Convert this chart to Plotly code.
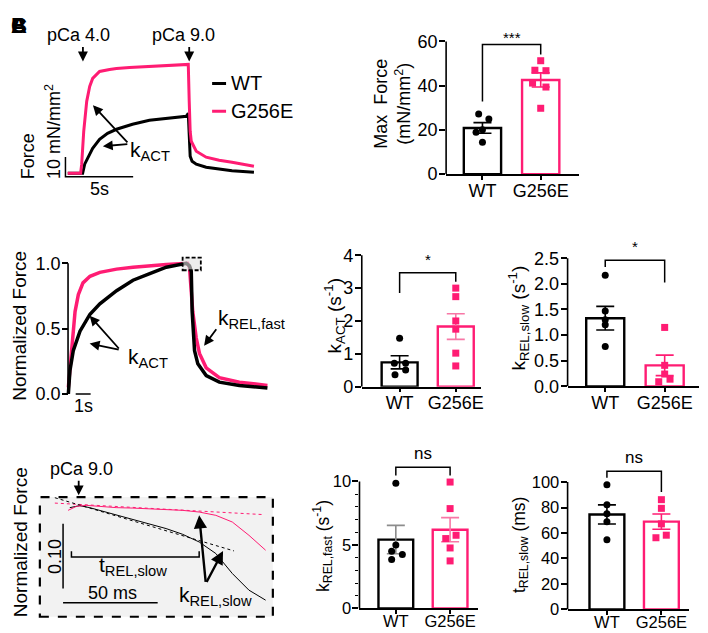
import plotly.graph_objects as go

# placement of the figure inside the photographed window (measured from earlier runs)
OFF = 8
SY, Y0 = 0.9866, 6.43
FW, FH = 700, 633
PINK = '#FF1C73'
PINK_LT = '#F877A6'
GREY = '#8C8C8C'
FONT = 'Liberation Sans, Arial, Helvetica, sans-serif'

cats = ['WT', 'G256E']

# ---- A: raw force traces, time (s) / force (mN/mm2)
a_t_g = [0.17, 1.12, 1.2, 1.35, 1.57, 1.79, 2.01, 2.52, 3.26, 3.77, 4.73, 6.2, 7.67, 9.07,
         9.14, 9.21, 9.29, 9.66, 10.39, 11.35, 12.3, 13.92]
a_f_g = [0.5, 0.5, 5, 21.5, 36.5, 44, 48, 51.5, 52.5, 53, 53.5, 54, 54.5, 55,
         36.5, 21.5, 16.5, 11.5, 8.5, 7, 6, 4]
a_t_wt = [0.17, 1.27, 1.42, 1.57, 1.79, 2.01, 2.52, 3.11, 3.77, 4.95, 6.2, 7.45, 8.92, 9.07,
          9.14, 9.21, 9.35, 9.66, 10.39, 11.35, 12.3, 13.92]
a_f_wt = [0.5, 0.5, 5, 7, 10, 13, 17.5, 20.5, 22.5, 25, 27, 28, 29, 30.5,
          16.5, 9, 6.5, 5, 3.5, 2.5, 1.75, 1]

# ---- B: normalized traces
b_t_g = [0.02, 0.25, 0.47, 0.69, 1.0, 1.47, 2.13, 3.25, 4.35, 6.58, 8.0, 8.13, 8.35, 8.58,
         8.8, 9.25, 10.13, 11.47, 13.35]
b_f_g = [0.05, 0.38, 0.63, 0.76, 0.85, 0.9, 0.93, 0.955, 0.97, 0.99, 1.0, 0.97, 0.63, 0.43,
         0.31, 0.2, 0.125, 0.09, 0.065]
b_t_wt = [0.02, 0.13, 0.35, 0.8, 1.47, 2.13, 3.25, 4.35, 5.47, 6.58, 7.91, 8.13, 8.25, 8.31,
          8.47, 8.69, 9.25, 10.13, 11.47, 13.35]
b_f_wt = [0.0, 0.18, 0.33, 0.48, 0.61, 0.69, 0.79, 0.87, 0.92, 0.97, 1.0, 0.98, 0.94, 0.63,
          0.33, 0.23, 0.14, 0.09, 0.065, 0.045]

# ---- C: zoom on early relaxation, time (ms) / normalized force
c_t_g = [-5.6, -1.2, 4.1, 11.1, 19.8, 28.6, 37.4, 46.2, 54.9, 63.7, 72.5, 81.2, 90.0, 98.8]
c_f_g = [0.9923, 0.9985, 1.0, 0.9985, 0.9965, 0.9958, 0.9949, 0.9934, 0.9923, 0.9897,
         0.9846, 0.9743, 0.9538, 0.9308]
c_t_wt = [-4.7, 0.5, 5.8, 11.1, 19.8, 28.6, 37.4, 46.2, 54.9, 63.7, 72.5, 81.2, 90.0, 98.8]
c_f_wt = [0.9965, 0.9995, 0.9965, 0.9923, 0.9846, 0.978, 0.9708, 0.9642, 0.9554, 0.9435,
          0.9257, 0.8949, 0.8692, 0.8538]
fit_g_t, fit_g_f = [-12.6, 97.9], [1.0035, 0.9857]
fit_wt_t, fit_wt_f = [-12.6, 82.1], [1.0118, 0.9297]

# ---- bar summaries (mean, SEM, individual fibres)
maxf_mean, maxf_sem = [20.9, 42.6], [2.4, 3.2]
maxf_wt = [27.2, 24.9, 20.1, 18.9, 14.4]
maxf_g = [51.3, 47.0, 46.8, 41.2, 39.4, 29.8]

kact_mean, kact_sem = [0.74, 1.83], [0.2, 0.39]
kact_wt = [1.47, 0.71, 0.71, 0.51, 0.36]
kact_g = [3.0, 2.74, 2.0, 1.75, 1.02, 0.63]

krs_mean, krs_sem = [1.33, 0.41], [0.23, 0.2]
krs_wt = [2.17, 1.47, 1.3, 1.2, 0.78]
krs_g = [1.15, 0.41, 0.24, 0.14, 0.09]

krf_mean, krf_sem = [5.42, 6.2], [1.12, 0.95]
krf_wt = [9.85, 5.0, 4.5, 4.25, 3.85]
krf_g = [9.95, 7.86, 5.76, 5.5, 4.76, 3.74]

trs_mean, trs_sem = [74.6, 69.0], [7.5, 6.0]
trs_wt = [97.9, 82.2, 75.2, 68.9, 54.8]
trs_g = [86.2, 79.4, 67.2, 58.3, 56.3]

fig = go.Figure()
layout = {}
shapes = []
annos = []


def px(x):
    return (x - OFF) / FW


def py(y):
    return 1 - (y - Y0) / SY / FH


def sfx(n):
    return '' if n == 1 else str(n)


def txt(x, y, s, ref, size=18, **kw):
    xr, yr = ref
    kw.setdefault('xanchor', 'center')
    kw.setdefault('yanchor', 'middle')
    annos.append(dict(x=x, y=y, xref=xr, yref=yr, text=s, showarrow=False,
                      font=dict(size=size, color='black'), **kw))


def arrow(x, y, ax, ay, ref, width=1.8, data_tail=True):
    xr, yr = ref
    d = dict(x=x, y=y, xref=xr, yref=yr, text='', showarrow=True, arrowhead=2,
             arrowsize=1.1, arrowwidth=width, arrowcolor='black', ax=ax, ay=ay)
    if data_tail:
        d.update(axref=xr, ayref=yr)
    annos.append(d)


def trace_axes(n, box, xo, xs, yo, ys):
    x0, x1, y0, y1 = box
    s = sfx(n)
    layout['xaxis' + s] = dict(domain=[px(x0), px(x1)], range=[(x0 - xo) / xs, (x1 - xo) / xs],
                               visible=False, anchor='y' + s)
    layout['yaxis' + s] = dict(domain=[py(y1), py(y0)], range=[(yo - y1) / ys, (yo - y0) / ys],
                               visible=False, anchor='x' + s)
    return 'x' + s, 'y' + s


def bar_panel(n, mean, sem, pts, jit, fr, yt, ytt, errc, brk, mark, mark_y, mark_fs, tfs, lab_off):
    s = sfx(n)
    xa, ya = 'x' + s, 'y' + s
    u = fr['c1'] - fr['c0']
    k = (fr['zero'] - fr['top']) / yt[-1]
    layout['xaxis' + s] = dict(domain=[px(fr['spine']), px(fr['end'])],
                               range=[(fr['spine'] - fr['c0']) / u, (fr['end'] - fr['c0']) / u],
                               anchor=ya, tickvals=[0, 1], ticktext=cats, showline=True,
                               linecolor='black', linewidth=1.6, ticks='outside', ticklen=4,
                               tickwidth=1.6, tickcolor='black', tickfont=dict(size=tfs),
                               ticklabelstandoff=lab_off,
                               showgrid=False, zeroline=False, fixedrange=True)
    layout['yaxis' + s] = dict(domain=[py(fr['zero']), py(fr['ext'])],
                               range=[0, (fr['zero'] - fr['ext']) / k], anchor=xa,
                               tickvals=yt, ticktext=ytt, ticks='outside', ticklen=6,
                               tickwidth=1.6, tickcolor='black', tickfont=dict(size=tfs),
                               ticklabelstandoff=-2,
                               showline=False, showgrid=False, zeroline=False, fixedrange=True)
    for i in range(2):
        col = 'black' if i == 0 else PINK
        fig.add_trace(go.Bar(x=[i], y=[mean[i]], width=0.64, xaxis=xa, yaxis=ya,
                             marker=dict(color='white', line=dict(color=col, width=2.4)),
                             error_y=dict(type='data', array=[sem[i]], color=errc[i],
                                          thickness=1.6, width=9)))
    for i in range(2):
        fig.add_trace(go.Scatter(x=[i + j for j in jit[i]], y=pts[i], mode='markers',
                                 xaxis=xa, yaxis=ya, cliponaxis=False,
                                 marker=dict(symbol='circle' if i == 0 else 'square', size=7,
                                             color='black' if i == 0 else PINK)))
    shapes.append(dict(type='line', xref=xa + ' domain', x0=0, x1=0, yref=ya, y0=0, y1=yt[-1],
                       line=dict(color='black', width=1.6)))
    l, top, r = brk
    shapes.append(dict(type='path', xref=xa, yref=ya, path=f'M 0,{l} L 0,{top} L 1,{top} L 1,{r}',
                       line=dict(color='black', width=1.5)))
    txt(0.5, mark_y, mark, (xa, ya), size=mark_fs)


PAPER = ('paper', 'paper')

# ================= panel A traces
ref = trace_axes(1, (22, 295, 25, 200), 65.7, 13.6, 173, 2)
fig.add_trace(go.Scatter(x=a_t_wt, y=a_f_wt, mode='lines', line=dict(color='black', width=3),
                         xaxis='x', yaxis='y'))
fig.add_trace(go.Scatter(x=a_t_g, y=a_f_g, mode='lines', line=dict(color=PINK, width=3),
                         xaxis='x', yaxis='y'))
shapes.append(dict(type='path', xref='x', yref='y', path='M 0,8.65 L 0,-1.35 L 5,-1.35',
                   line=dict(color='black', width=1.5)))
txt(-0.93, 21.5, '10 mN/mm<sup>2</sup>', ref, textangle=-90)
txt(-2.77, 9.0, 'Force', ref, textangle=-90)
txt(2.52, -7.5, '5s', ref)
txt(0.98, 70, 'pCa 4.0', ref)
arrow(1.29, 56.5, 0, -16, ref, data_tail=False)
txt(8.7, 70, 'pCa 9.0', ref)
arrow(9.14, 56.5, 0, -16, ref, data_tail=False)
shapes.append(dict(type='line', xref='x', yref='y', x0=10.83, x1=11.86, y0=45.5, y1=45.5,
                   line=dict(color='black', width=3)))
shapes.append(dict(type='line', xref='x', yref='y', x0=10.83, x1=11.86, y0=31.5, y1=31.5,
                   line=dict(color=PINK, width=3)))
txt(12.1, 45.5, 'WT', ref, size=20, xanchor='left')
txt(12.1, 31.5, 'G256E', ref, size=20, xanchor='left')
txt(4.65, 11.5, 'k<sub>ACT</sub>', ref, size=21, xanchor='left')
arrow(2.03, 34.5, 4.68, 15.15, ref)
arrow(2.76, 14.0, 4.68, 15.15, ref)

# ================= Max force
bar_panel(2, maxf_mean, maxf_sem, [maxf_wt, maxf_g],
          [[-0.065, 0.11, 0.0, -0.11, 0.0], [0.0, -0.1, 0.09, -0.14, 0.09, 0.0]],
          dict(spine=448, end=581, c0=484.5, c1=543, zero=173, top=40, ext=18),
          [0, 20, 40, 60], ['0', '20', '40', '60'], ['black', PINK],
          (32.9, 58.6, 54.1), '***', 61.8, 15, 18, -5)
txt(px(394), py(102), 'Max\u00a0 Force<br>(mN/mm<sup>2</sup>)', PAPER, textangle=-90)

# ================= panel B normalized traces
ref = trace_axes(3, (66, 290, 245, 415), 68.3, 15, 393.3, 131)
layout['yaxis3'].update(visible=True, anchor='free', position=px(68.3), tickvals=[0, 0.5, 1],
                        ticktext=['0.0', '0.5', '1.0'], ticks='outside', ticklen=6, tickwidth=1.6,
                        tickcolor='black', tickfont=dict(size=18), showline=False,
                        ticklabelstandoff=-2, showgrid=False, zeroline=False)
fig.add_trace(go.Scatter(x=b_t_g, y=b_f_g, mode='lines', line=dict(color=PINK, width=3.5),
                         xaxis='x3', yaxis='y3'))
fig.add_trace(go.Scatter(x=b_t_wt, y=b_f_wt, mode='lines', line=dict(color='black', width=3.5),
                         xaxis='x3', yaxis='y3'))
shapes.append(dict(type='rect', xref='x3', yref='y3', x0=7.67, x1=8.89, y0=0.9466, y1=1.0427,
                   fillcolor='rgba(225,225,225,0.6)',
                   line=dict(color='black', width=1.8, dash='4px,2px'), layer='above'))
shapes.append(dict(type='line', xref='paper', x0=px(68.3), x1=px(68.3), yref='y3', y0=0, y1=1,
                   line=dict(color='black', width=1.6)))
shapes.append(dict(type='line', xref='x3', yref='y3', x0=0.513, x1=1.513, y0=0.0, y1=0.0,
                   line=dict(color='black', width=1.5)))
txt(1.01, -0.089, '1s', ref)
txt(3.91, 0.277, 'k<sub>ACT</sub>', ref, size=21, xanchor='left')
arrow(1.447, 0.598, 3.49, 0.336, ref)
arrow(1.447, 0.386, 3.49, 0.336, ref)
txt(9.89, 0.575, 'k<sub>REL,fast</sub>', ref, size=21, xanchor='left')
arrow(9.11, 0.369, 10.0, 0.506, ref)
txt(px(20), py(325), 'Normalized Force', PAPER, size=19, textangle=-90)

# ================= kACT
bar_panel(4, kact_mean, kact_sem, [kact_wt, kact_g],
          [[0.0, -0.094, 0.107, 0.107, -0.082], [0, 0, 0, 0, 0, 0]],
          dict(spine=363.3, end=482.7, c0=401.3, c1=457.7, zero=386, top=254.3, ext=240),
          [0, 1, 2, 3, 4], ['0', '1', '2', '3', '4'], ['black', PINK_LT],
          (2.85, 3.47, 3.19), '*', 3.86, 15, 18, -5)
txt(px(336), py(315), 'k<sub>ACT</sub> (s<sup>-1</sup>)', PAPER, size=19, textangle=-90)

# ================= kREL,slow
bar_panel(5, krs_mean, krs_sem, [krs_wt, krs_g],
          [[0, 0, 0, 0, 0], [0, 0, 0, 0.09, -0.1]],
          dict(spine=570, end=701.7, c0=607.8, c1=667.5, zero=385.7, top=257.3, ext=230),
          [0, 0.5, 1, 1.5, 2, 2.5], ['0.0', '0.5', '1.0', '1.5', '2.0', '2.5'], ['black', PINK],
          (2.33, 2.461, 2.025), '*', 2.72, 15, 18, -5)
txt(px(521), py(317), 'k<sub>REL,slow</sub> (s<sup>-1</sup>)', PAPER, size=19, textangle=-90)

# ================= panel C zoomed relaxation
ref = trace_axes(6, (30, 285, 455, 622), 79, 1.9, 1155, 650)
shapes.append(dict(type='rect', xref='x6', yref='y6', x0=-20.53, x1=102.63, y0=0.8282, y1=1.01277,
                   fillcolor='#F2F2F2', line=dict(color='black', width=2.2, dash='dash'),
                   layer='below'))
fig.add_trace(go.Scatter(x=fit_g_t, y=fit_g_f, mode='lines', xaxis='x6', yaxis='y6',
                         line=dict(color=PINK, width=1, dash='dot')))
fig.add_trace(go.Scatter(x=fit_wt_t, y=fit_wt_f, mode='lines', xaxis='x6', yaxis='y6',
                         line=dict(color='black', width=1, dash='dot')))
fig.add_trace(go.Scatter(x=c_t_wt, y=c_f_wt, mode='lines', xaxis='x6', yaxis='y6',
                         line=dict(color='black', width=1)))
fig.add_trace(go.Scatter(x=c_t_g, y=c_f_g, mode='lines', xaxis='x6', yaxis='y6',
                         line=dict(color=PINK, width=1)))
txt(1.42, 1.0565, 'pCa 9.0', ref)
arrow(0, 1.0154, 0, -16, ref, data_tail=False)
shapes.append(dict(type='line', xref='x6', yref='y6', x0=-8.26, x1=-8.26, y0=0.8718, y1=0.9718,
                   line=dict(color='black', width=1.5)))
shapes.append(dict(type='line', xref='x6', yref='y6', x0=-8.26, x1=41.74, y0=0.8497, y1=0.8497,
                   line=dict(color='black', width=1.5)))
txt(-12.63, 0.9215, '0.10', ref, textangle=-90)
txt(17.9, 0.8646, '50 ms', ref)
shapes.append(dict(type='path', xref='x6', yref='y6',
                   path='M -3.84,0.9292 L -3.84,0.9205 L 63.68,0.9205 L 63.68,0.9292',
                   line=dict(color='black', width=1.5)))
txt(28.95, 0.906, 't<sub>REL,slow</sub>', ref, size=21)
txt(72.1, 0.86, 'k<sub>REL,slow</sub>', ref, size=21)
arrow(63.68, 0.9846, 67.2, 0.8795, ref, width=2.4)
arrow(76.3, 0.9297, 67.2, 0.8795, ref, width=2.4)
txt(px(20), py(542), 'Normalized Force', PAPER, size=19, textangle=-90)

# ================= kREL,fast
bar_panel(7, krf_mean, krf_sem, [krf_wt, krf_g],
          [[0, 0, -0.077, 0.12, -0.077], [0, 0, 0.11, -0.08, 0, 0]],
          dict(spine=361, end=480, c0=397.5, c1=452, zero=608.3, top=481, ext=440),
          [0, 5, 10], ['0', '5', '10'], [GREY, PINK_LT],
          (10.47, 11.12, 10.47), 'ns', 12.2, 17, 16.5, -7)
layout['yaxis7']['minor'] = dict(tickvals=[1, 2, 3, 4, 6, 7, 8, 9], ticks='outside', ticklen=3,
                                 tickwidth=1, tickcolor='black', showgrid=False)
txt(px(324), py(546), 'k<sub>REL,fast</sub> (s<sup>-1</sup>)', PAPER, size=17.5, textangle=-90)

# ================= tREL,slow
bar_panel(8, trs_mean, trs_sem, [trs_wt, trs_g],
          [[0, 0, 0, 0, 0], [0, 0, 0, 0.09, -0.1]],
          dict(spine=570, end=691.7, c0=609.5, c1=664.2, zero=609.3, top=481.7, ext=440),
          [0, 20, 40, 60, 80, 100], ['0', '20', '40', '60', '80', '100'], ['black', PINK],
          (103.4, 108.6, 92.2), 'ns', 119.4, 17, 16.5, -7)
txt(px(522), py(545), 't<sub>REL,slow</sub> (ms)', PAPER, size=17.5, textangle=-90)

# panel letter (overprinted in the source)
for letter in ['A', 'B', 'C']:
    txt(px(9), py(9), '<b>' + letter + '</b>', PAPER, size=22, xanchor='left', yanchor='top')

fig.update_layout(
    width=FW, height=FH,
    margin=dict(l=0, r=0, t=0, b=0),
    paper_bgcolor='white', plot_bgcolor='rgba(0,0,0,0)',
    font=dict(family=FONT, color='black', size=18),
    showlegend=False, barmode='overlay',
    shapes=shapes, annotations=annos,
    **layout
)
fig.write_html('out.html')
